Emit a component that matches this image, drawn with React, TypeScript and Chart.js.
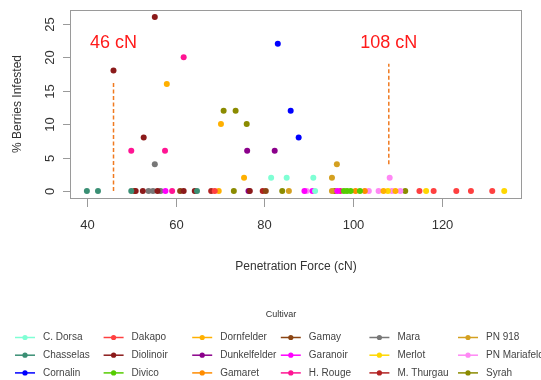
import React, { useEffect, useRef } from 'react';
import { Chart, registerables } from 'chart.js';

Chart.register(...registerables);

// ---- Data: [penetration force (cN), % berries infested] per cultivar ----
const C_DORSA = [[81.5, 2], [85, 2], [91, 2], [91.4, 0]];
const CHASSELAS = [[40, 0], [42.5, 0], [50, 0], [64.8, 0]];
const CORNALIN = [[83, 22], [85.9, 12], [87.7, 8]];
const DAKAPO = [[68.8, 0], [114.9, 0], [118.1, 0], [123.2, 0], [126.5, 0], [131.3, 0]];
const DIOLINOIR = [[46, 18], [55.3, 26], [52.8, 8], [51, 0], [52.6, 0], [55.9, 0], [61.8, 0], [64.3, 0], [76.7, 0]];
const DIVICO = [[97.9, 0], [98.6, 0], [99.4, 0], [101.5, 0]];
const DORNFELDER = [[58, 16], [70.2, 10], [75.4, 2], [69.7, 0], [106.8, 0], [109.5, 0]];
const DUNKELFELDER = [[76.1, 6], [82.3, 6], [76.4, 0]];
const GAMARET = [[100.5, 0], [102.6, 0]];
const GAMAY = [[50.7, 0], [61, 0], [80.3, 0]];
const GARANOIR = [[57.7, 0], [89, 0], [90.8, 0], [96.4, 0]];
const H_ROUGE = [[61.8, 20], [50, 6], [57.6, 6], [59.2, 0], [97.1, 0]];
const MARA = [[55.3, 4], [53.9, 0], [54.9, 0], [56.6, 0]];
const MERLOT = [[107.8, 0], [116.4, 0], [134, 0]];
const M_THURGAU = [[68, 0], [79.6, 0]];
const PN_918 = [[96.3, 4], [95.2, 2], [85.5, 0], [95.2, 0]];
const PN_MARIAFELD = [[108.2, 2], [89.5, 0], [103.5, 0], [105.7, 0], [108.7, 0], [110.6, 0]];
const SYRAH = [[70.8, 12], [73.5, 12], [76, 10], [73.1, 0], [84, 0], [95.8, 0], [111.7, 0]];

const cultivarNames = [
  'C. Dorsa', 'Chasselas', 'Cornalin', 'Dakapo', 'Diolinoir', 'Divico',
  'Dornfelder', 'Dunkelfelder', 'Gamaret', 'Gamay', 'Garanoir', 'H. Rouge',
  'Mara', 'Merlot', 'M. Thurgau', 'PN 918', 'PN Mariafeld', 'Syrah',
];
const cultivarData = [
  C_DORSA, CHASSELAS, CORNALIN, DAKAPO, DIOLINOIR, DIVICO,
  DORNFELDER, DUNKELFELDER, GAMARET, GAMAY, GARANOIR, H_ROUGE,
  MARA, MERLOT, M_THURGAU, PN_918, PN_MARIAFELD, SYRAH,
];
const cultivarColors = [
  '#7FFFD4', '#3A8F74', '#0000FF', '#FF4040', '#8B1A1A', '#55CC00',
  '#FFB000', '#8B008B', '#FF8C00', '#8B4513', '#FF00FF', '#FF1493',
  '#777777', '#FFD700', '#B22222', '#D4A020', '#FF88F5', '#8B8B00',
];

// thresholds
const thresholdForces = [46, 108];
const thresholdLabels = ['46 cN', '108 cN'];
const thresholdFrom = [0, 4];
const thresholdTo = [16.5, 19];
const thresholdLabelY = 22.1;

// axes
const xTicks = [40, 60, 80, 100, 120];
const yTicks = [0, 5, 10, 15, 20, 25];
const xRange = [36.2, 138];
const yRange = [-1.04, 27.04];
const xTitle = 'Penetration Force (cN)';
const yTitle = '% Berries Infested';
const legendTitle = 'Cultivar';

const FONT = '"Liberation Sans", Arial, Helvetica, sans-serif';

const decorPlugin = {
  id: 'decor',
  afterDatasetsDraw(chart: any) {
    const { ctx, chartArea: a, scales } = chart;
    const xs = scales.x;
    const ys = scales.y;
    ctx.save();

    // box
    ctx.strokeStyle = '#9a9a9a';
    ctx.lineWidth = 1;
    ctx.strokeRect(a.left + 0.5, a.top + 0.5, a.right - a.left - 1, a.bottom - a.top);

    // x ticks
    ctx.fillStyle = '#333';
    ctx.font = `13px ${FONT}`;
    ctx.textAlign = 'center';
    ctx.textBaseline = 'middle';
    xTicks.forEach((v) => {
      const px = Math.round(xs.getPixelForValue(v)) + 0.5;
      ctx.beginPath();
      ctx.moveTo(px, a.bottom);
      ctx.lineTo(px, a.bottom + 9);
      ctx.stroke();
      ctx.fillText(String(v), px, a.bottom + 27);
    });

    // y ticks
    yTicks.forEach((v) => {
      const py = Math.round(ys.getPixelForValue(v)) + 0.5;
      ctx.beginPath();
      ctx.moveTo(a.left - 7, py);
      ctx.lineTo(a.left, py);
      ctx.stroke();
      ctx.save();
      ctx.translate(a.left - 20, py);
      ctx.rotate(-Math.PI / 2);
      ctx.fillText(String(v), 0, 0);
      ctx.restore();
    });

    // titles
    ctx.font = `12px ${FONT}`;
    ctx.fillText(xTitle, (a.left + a.right) / 2, a.bottom + 69);
    ctx.save();
    ctx.translate(18, (a.top + a.bottom) / 2);
    ctx.rotate(-Math.PI / 2);
    ctx.fillText(yTitle, 0, 0);
    ctx.restore();

    // threshold labels
    ctx.fillStyle = '#FF1A1A';
    ctx.font = `18px ${FONT}`;
    thresholdForces.forEach((f, i) => {
      ctx.fillText(thresholdLabels[i], xs.getPixelForValue(f), ys.getPixelForValue(thresholdLabelY));
    });

    // legend
    ctx.fillStyle = '#333';
    ctx.font = `9px ${FONT}`;
    ctx.fillText(legendTitle, 281, 315);
    ctx.font = `10px ${FONT}`;
    ctx.textAlign = 'left';
    chart.data.datasets.forEach((ds: any, idx: number) => {
      if (ds.isThreshold) return;
      const col = Math.floor(idx / 3);
      const row = idx % 3;
      const lx = 15 + col * 88.6;
      const ly = 337.5 + row * 17.7;
      ctx.strokeStyle = ds.backgroundColor;
      ctx.lineWidth = 1.5;
      ctx.beginPath();
      ctx.moveTo(lx, ly);
      ctx.lineTo(lx + 20, ly);
      ctx.stroke();
      ctx.fillStyle = ds.backgroundColor;
      ctx.beginPath();
      ctx.arc(lx + 10, ly, 2.6, 0, Math.PI * 2);
      ctx.fill();
      ctx.fillStyle = '#444';
      ctx.fillText(ds.label, lx + 28, ly);
    });

    ctx.restore();
  },
};

export default function App() {
  const ref = useRef<HTMLCanvasElement | null>(null);

  useEffect(() => {
    if (!ref.current) return;
    const datasets: any[] = cultivarNames.map((name, i) => ({
      label: name,
      data: cultivarData[i].map(([x, y]) => ({ x, y })),
      backgroundColor: cultivarColors[i],
      borderColor: cultivarColors[i],
      pointRadius: 3,
      pointBorderWidth: 0,
      pointHoverRadius: 3,
    }));
    thresholdForces.forEach((f, i) => {
      datasets.push({
        label: thresholdLabels[i],
        isThreshold: true,
        data: [{ x: f, y: thresholdFrom[i] }, { x: f, y: thresholdTo[i] }],
        showLine: true,
        borderColor: '#F07A20',
        borderWidth: 1.5,
        borderDash: [4, 2.5],
        pointRadius: 0,
      });
    });

    const chart = new Chart(ref.current, {
      type: 'scatter',
      data: { datasets },
      options: {
        responsive: false,
        animation: false,
        devicePixelRatio: 1,
        layout: { padding: { left: 70, top: 10, right: 19, bottom: 182 } },
        scales: {
          x: { type: 'linear', display: false, min: xRange[0], max: xRange[1] },
          y: { type: 'linear', display: false, min: yRange[0], max: yRange[1] },
        },
        plugins: { legend: { display: false }, tooltip: { enabled: false } },
      },
      plugins: [decorPlugin],
    });
    return () => chart.destroy();
  }, []);

  return (
    <div style={{ position: 'fixed', left: 0, top: 0, width: 541, height: 380, background: '#fff' }}>
      <canvas ref={ref} width={541} height={380} style={{ display: 'block' }} />
    </div>
  );
}
